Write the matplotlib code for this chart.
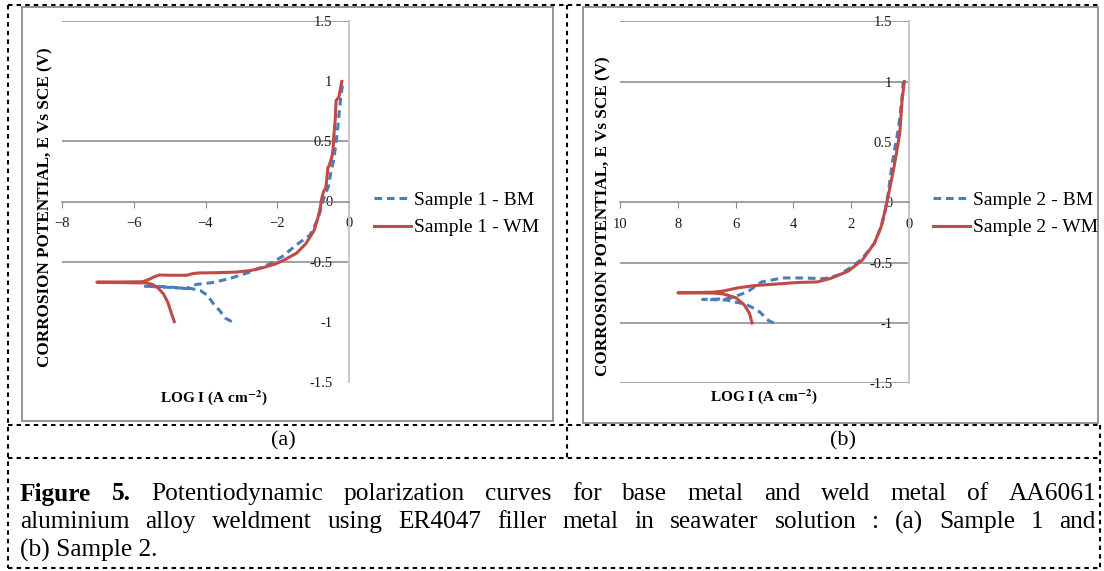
import matplotlib
matplotlib.use("Agg")
import matplotlib.pyplot as plt
from matplotlib.lines import Line2D
from matplotlib.patches import Rectangle

plt.rcParams['font.family'] = ['Liberation Serif', 'DejaVu Serif']
plt.rcParams['mathtext.fontset'] = 'stix'
plt.rcParams['lines.scale_dashes'] = False

W, H = 1104, 571

# ---------------- data ----------------
# Panel (a) - Sample 1 (LOG I, E)
a_bm_x = [-3.27, -3.45, -3.60, -3.78, -3.95, -4.15, -4.40, -4.89, -5.30, -5.68, -5.20, -4.90,
          -4.53, -4.35, -4.25, -3.80, -3.31, -2.76, -2.21, -1.87, -1.46, -1.09, -0.92, -0.82,
          -0.72, -0.65, -0.58, -0.50, -0.43, -0.38, -0.33, -0.28, -0.23, -0.19, -0.16]
a_bm_y = [-1.00, -0.97, -0.91, -0.85, -0.78, -0.74, -0.725, -0.717, -0.71, -0.706, -0.708, -0.715,
          -0.725, -0.70, -0.69, -0.675, -0.64, -0.587, -0.52, -0.46, -0.36, -0.28, -0.18, -0.10,
          0.01, 0.07, 0.12, 0.25, 0.34, 0.45, 0.57, 0.72, 0.87, 0.95, 1.00]
a_wm_x = [-4.87, -4.95, -5.05, -5.17, -5.32, -5.48, -5.65, -7.03, -5.75, -5.55, -5.42, -5.28,
          -4.95, -4.53, -4.35, -4.20, -3.60, -3.13, -2.75, -2.39, -2.05, -1.83, -1.46, -1.20,
          -0.97, -0.87, -0.80, -0.77, -0.74, -0.70, -0.65, -0.62, -0.59, -0.55, -0.47, -0.44,
          -0.43, -0.38, -0.36, -0.28, -0.22, -0.20]
a_wm_y = [-1.00, -0.93, -0.84, -0.77, -0.72, -0.69, -0.678, -0.672, -0.668, -0.645, -0.625, -0.612,
          -0.614, -0.614, -0.600, -0.595, -0.592, -0.587, -0.575, -0.55, -0.52, -0.49, -0.43, -0.35,
          -0.24, -0.14, -0.05, 0.01, 0.05, 0.09, 0.11, 0.18, 0.28, 0.30, 0.38, 0.45,
          0.52, 0.70, 0.84, 0.87, 0.97, 1.00]

# Panel (b) - Sample 2 (LOG I shown on reversed axis 10..0)
b_bm_x = [4.68, 4.86, 5.16, 5.46, 5.70, 6.06, 6.30, 7.14, 6.30, 6.00, 5.58, 5.10, 4.38, 3.66,
          2.94, 2.46, 1.98, 1.62, 1.20, 0.96, 0.84, 0.72, 0.60, 0.48, 0.36, 0.24, 0.20]
b_bm_y = [-1.00, -0.98, -0.91, -0.867, -0.84, -0.826, -0.81, -0.805, -0.80, -0.78, -0.74, -0.66,
          -0.627, -0.627, -0.633, -0.605, -0.536, -0.467, -0.34, -0.20, -0.09, 0.07, 0.29, 0.46,
          0.62, 0.87, 1.00]
b_wm_x = [5.43, 5.52, 5.70, 6.00, 6.42, 6.78, 8.00, 6.78, 6.42, 5.94, 5.34, 4.38, 3.90, 3.18,
          2.70, 2.10, 1.62, 1.20, 0.96, 0.80, 0.68, 0.54, 0.44, 0.32, 0.24, 0.16]
b_wm_y = [-1.00, -0.92, -0.85, -0.79, -0.76, -0.752, -0.75, -0.745, -0.735, -0.71, -0.69, -0.674,
          -0.665, -0.66, -0.63, -0.57, -0.48, -0.34, -0.20, -0.04, 0.10, 0.265, 0.40, 0.57,
          0.845, 1.00]

a_xticks = [-8, -6, -4, -2, 0]
b_xticks = [10, 8, 6, 4, 2, 0]
yticks = [-1.5, -1, -0.5, 0, 0.5, 1, 1.5]
a_grid = [1.5, 0.5, -0.5]
b_grid = [1.5, 1, -0.5, -1, -1.5]

a_labels = ["Sample 1 - BM", "Sample 1 - WM"]
b_labels = ["Sample 2 - BM", "Sample 2 - WM"]
ylabel_text = "CORROSION POTENTIAL, E Vs SCE (V)"
xlabel_text = r"LOG I (A cm$^{\mathbf{-2}}$)"
caption_line1 = [("Figure", True), ("5.", True)] + [(w, False) for w in
                 "Potentiodynamic polarization curves for base metal and weld metal of AA6061".split()]
caption_line2 = "aluminium alloy weldment using ER4047 filler metal in seawater solution : (a) Sample 1 and".split()
caption_line3 = "(b) Sample 2."

BLUE = "#4a7ebb"
RED = "#be4b48"
GRID = "#868686"

fig = plt.figure(figsize=(W / 100, H / 100), dpi=100)


def fx(px):
    return px / W


def fy(py):
    return 1 - py / H


def dline(x0, y0, x1, y1):
    fig.add_artist(Line2D([fx(x0), fx(x1)], [fy(y0), fy(y1)], color="black", lw=1.5,
                          linestyle=(0, (3.2, 3.0)), transform=fig.transFigure))


# chart boxes
for (x0, y0, x1, y1) in [(22, 7, 553, 421), (583, 7, 1098, 423)]:
    fig.add_artist(Rectangle((fx(x0), fy(y1)), fx(x1) - fx(x0), fy(y0) - fy(y1),
                             transform=fig.transFigure, facecolor="white",
                             edgecolor="#8c8c8c", lw=1.3, zorder=0))

# dashed frame
dline(8, 5, 1100, 5)
dline(8, 5, 8, 568)
dline(8, 568, 1100, 568)
dline(1100, 425, 1100, 568)
dline(566.5, 5, 566.5, 458)
dline(8, 425, 1100, 425)
dline(8, 458, 1100, 458)


def make_panel(rect, xs_bm, ys_bm, xs_wm, ys_wm, xlim, xticks, grid, labels, leg_x):
    ax = fig.add_axes(rect)
    ax.set_facecolor("none")
    ax.set_xlim(*xlim)
    ax.set_ylim(-1.5, 1.5)
    for g in grid:
        ax.axhline(g, color=GRID, lw=1.1, zorder=1)
    ax.plot(xs_bm, ys_bm, color=BLUE, lw=2.2, linestyle=(0, (5.5, 3.5)), label=labels[0], zorder=3)
    ax.plot(xs_wm, ys_wm, color=RED, lw=2.2, label=labels[1], zorder=4)
    for s in ["top", "right"]:
        ax.spines[s].set_visible(False)
    ax.spines["bottom"].set_position(("data", 0))
    ax.spines["bottom"].set_color(GRID)
    ax.spines["bottom"].set_linewidth(1.1)
    ax.spines["left"].set_position(("data", 0))
    ax.spines["left"].set_color("#c4c4c4")
    ax.spines["left"].set_linewidth(1.3)
    ax.set_xticks(xticks)
    ax.set_yticks(yticks)
    ax.set_yticklabels([f"{v:g}" for v in yticks])
    ax.tick_params(axis="x", direction="out", length=4, color=GRID, pad=7, labelsize=10.5,
                   labelcolor="#1a1a1a")
    ax.tick_params(axis="y", length=0, pad=12, labelsize=10.5, labelcolor="#1a1a1a")
    ax.legend(loc="center left", bbox_to_anchor=(fx(leg_x), fy(214)),
              bbox_transform=fig.transFigure, frameon=False, fontsize=14,
              handlelength=1.9, handletextpad=0.18, labelspacing=0.5, borderpad=0,
              borderaxespad=0)
    return ax


ax_a = make_panel([fx(62), fy(381.7), fx(349) - fx(62), fy(21.3) - fy(381.7)],
                  a_bm_x, a_bm_y, a_wm_x, a_wm_y, (-8, 0), a_xticks, a_grid, a_labels, 374)
ax_b = make_panel([fx(620), fy(383.3), fx(909) - fx(620), fy(21.3) - fy(383.3)],
                  b_bm_x, b_bm_y, b_wm_x, b_wm_y, (10, 0), b_xticks, b_grid, b_labels, 933)

# axis titles
fig.text(fx(45), fy(207), ylabel_text, rotation=90, ha="center", va="center",
         fontsize=12.3, fontweight="bold")
fig.text(fx(603), fy(216), ylabel_text, rotation=90, ha="center", va="center",
         fontsize=12.3, fontweight="bold")
fig.text(fx(214), fy(398), xlabel_text, ha="center", va="center", fontsize=11, fontweight="bold")
fig.text(fx(764), fy(397), xlabel_text, ha="center", va="center", fontsize=11, fontweight="bold")

# sub labels
fig.text(fx(283), fy(441), "(a)", ha="center", va="center", fontsize=16)
fig.text(fx(843), fy(441), "(b)", ha="center", va="center", fontsize=16)

# caption (justified)
fig.canvas.draw()
renderer = fig.canvas.get_renderer()
CAP_FS = 18.3
X_LEFT, X_RIGHT = 20, 1096


def justify(words, ypx):
    texts = []
    for w, bold in words:
        t = fig.text(0, fy(ypx), w, fontsize=CAP_FS, fontweight="bold" if bold else "normal",
                     ha="left", va="center")
        texts.append(t)
    widths = [t.get_window_extent(renderer).width for t in texts]
    gap = (X_RIGHT - X_LEFT - sum(widths)) / (len(texts) - 1)
    x = X_LEFT
    for t, wdt in zip(texts, widths):
        t.set_x(fx(x))
        x += wdt + gap


justify(caption_line1, 494)
justify([(w, False) for w in caption_line2], 522)
fig.text(fx(X_LEFT), fy(550), caption_line3, fontsize=CAP_FS, ha="left", va="center")

fig.savefig("out.png", dpi=100)
